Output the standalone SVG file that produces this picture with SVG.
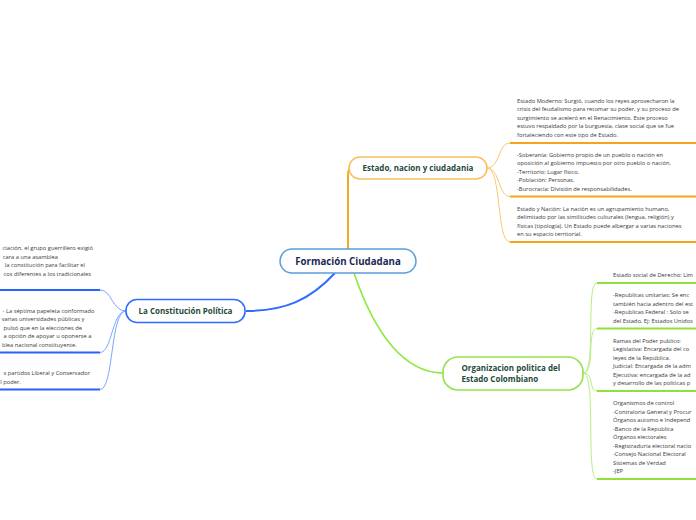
<svg xmlns="http://www.w3.org/2000/svg" width="696" height="520" viewBox="0 0 696 520">
<style>
.t{font-family:"Open Sans","Noto Sans","Liberation Sans",sans-serif;font-size:5.75px;fill:#3a3a3a}
.te{font-family:"Open Sans","Noto Sans","Liberation Sans",sans-serif;font-size:5.75px;fill:#3a3a3a;text-anchor:end}
.h{font-family:"Open Sans","Noto Sans","Liberation Sans",sans-serif;font-weight:700;font-size:8px;fill:#1e4a3a}
.hc{font-family:"Open Sans","Noto Sans","Liberation Sans",sans-serif;font-weight:700;font-size:9.7px;fill:#1b2a52;text-anchor:middle}
.ou{stroke:#f7a31c;stroke-width:2;fill:none}
.ob{stroke:#fcc770;stroke-width:1;fill:none}
.bu{stroke:#2962ff;stroke-width:2;fill:none}
.bb{stroke:#7aa6ff;stroke-width:1;fill:none}
.gu{stroke:#8fe03a;stroke-width:2;fill:none}
.gb{stroke:#b8ee85;stroke-width:1;fill:none}
</style>
<rect width="696" height="520" fill="#ffffff"/>
<g id="connectors">
<path d="M348,249 L348,176 Q348,168 351,168" stroke="#f5a623" stroke-width="2" fill="none"/>
<path d="M335,273 C310,300 285,311 246,311" stroke="#2f6bff" stroke-width="2" fill="none"/>
<path d="M354,273 C375,335 405,373 443,373" stroke="#8ee83a" stroke-width="1.6" fill="none"/>
<path class="ob" d="M487,168 C500,168 498,143 510,143"/>
<path class="ob" d="M487,168 C500,168 498,196.5 510,196.5"/>
<path class="ob" d="M487,168 C502,168 496,242 510,242"/>
<path class="bb" d="M126,311 C112,311 112,290 100,290"/>
<path class="bb" d="M126,311 C112,311 112,352.5 100,352.5"/>
<path class="bb" d="M126,311 C110,311 114,389.5 100,389.5"/>
<path class="gb" d="M583,373 C597,373 585,283 597,283"/>
<path class="gb" d="M583,373 C596,373 586,328.5 597,328.5"/>
<path class="gb" d="M583,373 C595,373 588,391 597,391"/>
<path class="gb" d="M583,373 C597,373 585,479 597,479"/>
</g>
<g id="central">
<rect x="280" y="249" width="136" height="24" rx="12" fill="#ffffff" stroke="#5a9fd8" stroke-width="1.5"/>
<text class="hc" x="348" y="264.5">Formación Ciudadana</text>
</g>
<g id="estado">
<rect x="349" y="157" width="138" height="22" rx="11" fill="#ffffff" stroke="#fbbf5e" stroke-width="1.6"/>
<text class="h" x="418" y="171" text-anchor="middle">Estado, nacion y ciudadania</text>
</g>
<g id="constitucion">
<rect x="126" y="299.5" width="119" height="23" rx="11" fill="#ffffff" stroke="#2f6bff" stroke-width="1.6"/>
<text class="h" x="185.5" y="314" text-anchor="middle">La Constitución Política</text>
</g>
<g id="organizacion">
<rect x="443" y="357" width="140" height="33" rx="15" fill="#ffffff" stroke="#93e34a" stroke-width="1.6"/>
<text class="h" x="461.5" y="370.5">Organizacion politica del</text>
<text class="h" x="461.5" y="381.5">Estado Colombiano</text>
</g>
<g id="estado-moderno">
<text class="t" x="517" y="102.5">Estado Moderno: Surgió, cuando los reyes aprovecharon la</text>
<text class="t" x="517" y="111">crisis del feudalismo para retomar su poder, y su proceso de</text>
<text class="t" x="517" y="119.5">surgimiento se aceleró en el Renacimiento. Este proceso</text>
<text class="t" x="517" y="128">estuvo respaldado por la burguesía, clase social que se fue</text>
<text class="t" x="517" y="136.5">fortaleciendo con este tipo de Estado.</text>
<path class="ou" d="M510,143 L696,143"/>
</g>
<g id="soberania">
<text class="t" x="517" y="156.5">-Soberanía: Gobierno propio de un pueblo o nación en</text>
<text class="t" x="517" y="165">oposición al gobierno impuesto por otro pueblo o nación.</text>
<text class="t" x="517" y="173.5">-Territorio: Lugar físico.</text>
<text class="t" x="517" y="182">-Población: Personas.</text>
<text class="t" x="517" y="190.5">-Burocracia: División de responsabilidades.</text>
<path class="ou" d="M510,196.5 L696,196.5"/>
</g>
<g id="estado-nacion">
<text class="t" x="517" y="210.5">Estado y Nación: La nación es un agrupamiento humano,</text>
<text class="t" x="517" y="219">delimitado por las similitudes culturales (lengua, religión) y</text>
<text class="t" x="517" y="227.5">físicas (tipología). Un Estado puede albergar a varias naciones</text>
<text class="t" x="517" y="236">en su espacio territorial.</text>
<path class="ou" d="M510,242 L696,242"/>
</g>
<g id="guerrilla">
<text class="te" x="93" y="250">ciación, el grupo guerrillero exigió</text>
<text class="te" x="58" y="258.5">cara a una asamblea</text>
<text class="te" x="85" y="267">la constitución para facilitar el</text>
<text class="te" x="91" y="275.5">cos diferentes a los tradicionales</text>
<path class="bu" d="M0,290 L100,290"/>
</g>
<g id="septima-papeleta">
<text class="te" x="94.5" y="312.5">- La séptima papeleta conformado</text>
<text class="te" x="84.3" y="321">varias universidades públicas y</text>
<text class="te" x="82" y="329.5">pulsó que en la elecciones de</text>
<text class="te" x="91.4" y="338">a opción de apoyar u oponerse a</text>
<text class="te" x="76.8" y="346.5">blea nacional constituyente.</text>
<path class="bu" d="M0,352.5 L100,352.5"/>
</g>
<g id="partidos">
<text class="te" x="90" y="375">s partidos Liberal y Conservador</text>
<text class="te" x="20.9" y="383.5">l poder.</text>
<path class="bu" d="M0,389.5 L100,389.5"/>
</g>
<g id="estado-social">
<text class="t" x="613" y="277">Estado social de Derecho: Lim</text>
<path class="gu" d="M597,283 L696,283"/>
</g>
<g id="republicas">
<text class="t" x="613" y="297">-Republicas unitarias: Se enc</text>
<text class="t" x="613" y="305.5">también hacia adentro del est</text>
<text class="t" x="613" y="314">-Republicas Federal : Solo se</text>
<text class="t" x="613" y="322.5">del Estado, Ej: Estados Unidos</text>
<path class="gu" d="M597,328.5 L696,328.5"/>
</g>
<g id="ramas">
<text class="t" x="613" y="342.5">Ramas del Poder publico:</text>
<text class="t" x="613" y="351">Legislativa: Encargada del co</text>
<text class="t" x="613" y="359.5">leyes de la República.</text>
<text class="t" x="613" y="368">Judicial: Encargada de la adm</text>
<text class="t" x="613" y="376.5">Ejecutiva: encargada de la ad</text>
<text class="t" x="613" y="385">y desarrollo de las politicas p</text>
<path class="gu" d="M597,391 L696,391"/>
</g>
<g id="organismos">
<text class="t" x="613" y="404.5">Organismos de control</text>
<text class="t" x="613" y="413.5">-Contraloria General y Procur</text>
<text class="t" x="613" y="422">Órganos automo e Independ</text>
<text class="t" x="613" y="430.5">-Banco de la Republica</text>
<text class="t" x="613" y="439">Órganos electorales</text>
<text class="t" x="613" y="447.5">-Registraduría electoral nacio</text>
<text class="t" x="613" y="456">-Consejo Nacional Electoral</text>
<text class="t" x="613" y="464.5">Sistemas de Verdad</text>
<text class="t" x="613" y="473">-JEP</text>
<path class="gu" d="M597,479 L696,479"/>
</g>
</svg>
